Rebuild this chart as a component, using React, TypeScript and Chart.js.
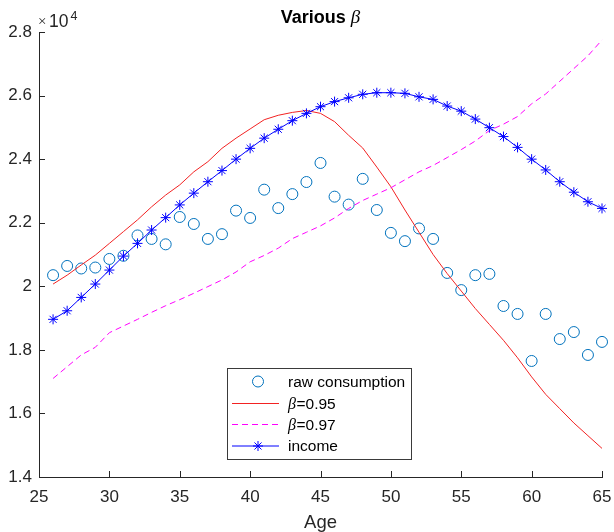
import React, { useEffect, useRef } from "react";
import { Chart, registerables } from "chart.js";

Chart.register(...registerables);

const ages = [26, 27, 28, 29, 30, 31, 32, 33, 34, 35, 36, 37, 38, 39, 40, 41, 42, 43, 44, 45,
  46, 47, 48, 49, 50, 51, 52, 53, 54, 55, 56, 57, 58, 59, 60, 61, 62, 63, 64, 65];

const rawConsumption = [20350, 20640, 20560, 20590, 20860, 20960, 21600, 21490, 21320, 22180,
  21960, 21490, 21640, 22380, 22150, 23040, 22460, 22900, 23280, 23880,
  22820, 22570, 23380, 22400, 21680, 21420, 21820, 21490, 20420, 19880,
  20350, 20390, 19380, 19130, 17650, 19130, 18340, 18560, 17840, 18250];

const beta095 = [20070, 20350, 20670, 20980, 21350, 21720, 22090, 22500, 22870, 23190,
  23600, 23920, 24340, 24660, 24950, 25240, 25380, 25470, 25530, 25440,
  25180, 24750, 24350, 23750, 23130, 22400, 21700, 21000, 20400, 19850,
  19300, 18800, 18300, 17750, 17150, 16600, 16150, 15700, 15300, 14900];

const beta097 = [17100, 17470, 17840, 18080, 18540, 18750, 18960, 19180, 19390, 19580,
  19780, 19990, 20200, 20450, 20770, 20970, 21200, 21500, 21700, 21900,
  22150, 22450, 22700, 22900, 23100, 23350, 23600, 23800, 24050, 24300,
  24570, 24900, 25100, 25340, 25740, 26050, 26450, 26850, 27250, 27750];

const income = [18960, 19230, 19650, 20070, 20510, 20950, 21350, 21770, 22160, 22560,
  22930, 23290, 23640, 24000, 24340, 24660, 24940, 25210, 25440, 25650,
  25810, 25930, 26040, 26090, 26090, 26070, 25960, 25880, 25670, 25510,
  25260, 24990, 24710, 24370, 24000, 23660, 23290, 22960, 22660, 22450];

const xTicks = [25, 30, 35, 40, 45, 50, 55, 60, 65];
const yTicks = [14000, 16000, 18000, 20000, 22000, 24000, 26000, 28000];

const legendLabels = [
  { beta: false, text: "raw consumption" },
  { beta: true, text: "=0.95" },
  { beta: true, text: "=0.97" },
  { beta: false, text: "income" },
];

const AXIS = "#262626";
const SANS = "'Liberation Sans', Arial, sans-serif";
const SERIF = "'Liberation Serif', 'DejaVu Serif', serif";

const C_RAW = "#0072BD";
const C_R = "#F22222";
const C_M = "#FF00FF";
const C_B = "#0000FF";

function drawStar(ctx: CanvasRenderingContext2D, x: number, y: number, r: number, color: string) {
  ctx.save();
  ctx.strokeStyle = color;
  ctx.lineWidth = 1;
  ctx.beginPath();
  ctx.moveTo(x - r, y); ctx.lineTo(x + r, y);
  ctx.moveTo(x, y - r); ctx.lineTo(x, y + r);
  const d = r * Math.SQRT1_2;
  ctx.moveTo(x - d, y - d); ctx.lineTo(x + d, y + d);
  ctx.moveTo(x - d, y + d); ctx.lineTo(x + d, y - d);
  ctx.stroke();
  ctx.restore();
}

const decorPlugin = {
  id: "decor",
  beforeDatasetsDraw(chart: any) {
    const ctx = chart.ctx as CanvasRenderingContext2D;
    const { left, bottom } = chart.chartArea;
    const xs = chart.scales.x;
    const ys = chart.scales.y;
    ctx.save();
    ctx.strokeStyle = AXIS;
    ctx.lineWidth = 1;
    ctx.beginPath();
    xTicks.forEach((v) => {
      const px = Math.round(xs.getPixelForValue(v)) + 0.5;
      ctx.moveTo(px, bottom);
      ctx.lineTo(px, bottom - 6);
    });
    yTicks.forEach((v) => {
      const py = Math.round(ys.getPixelForValue(v)) + 0.5;
      ctx.moveTo(left, py);
      ctx.lineTo(left + 6, py);
    });
    ctx.stroke();
    ctx.restore();
  },
  afterDraw(chart: any) {
    const ctx = chart.ctx as CanvasRenderingContext2D;
    const { left, right } = chart.chartArea;
    const cx = (left + right) / 2;
    ctx.save();

    // Title
    ctx.fillStyle = "#000";
    ctx.textBaseline = "alphabetic";
    ctx.font = `bold 18px ${SANS}`;
    const t1 = "Various ";
    const w1 = ctx.measureText(t1).width;
    ctx.font = `italic 19px ${SERIF}`;
    const w2 = ctx.measureText("β").width;
    const sx = cx - (w1 + w2) / 2;
    ctx.font = `bold 18px ${SANS}`;
    ctx.textAlign = "left";
    ctx.fillText(t1, sx, 23);
    ctx.font = `italic 19px ${SERIF}`;
    ctx.fillText("β", sx + w1, 23);

    // x label
    ctx.fillStyle = AXIS;
    ctx.font = `18.5px ${SANS}`;
    ctx.textAlign = "center";
    ctx.fillText("Age", cx, 528);

    // exponent
    ctx.textAlign = "left";
    ctx.font = `15px ${SERIF}`;
    ctx.fillText("×", 38, 26);
    ctx.font = `17.5px ${SANS}`;
    ctx.fillText("10", 49, 27);
    ctx.font = `12.5px ${SANS}`;
    ctx.fillText("4", 70.5, 20);

    // Legend
    const bx = 227.5, by = 368.5, bw = 184, bh = 91;
    ctx.fillStyle = "#fff";
    ctx.fillRect(bx, by, bw, bh);
    ctx.strokeStyle = "#3a3a3a";
    ctx.lineWidth = 1;
    ctx.strokeRect(bx, by, bw, bh);
    const rows = [381.5, 403.5, 424.5, 446];
    const l0 = 232, l1 = 279, mx = 258;
    ctx.strokeStyle = C_RAW;
    ctx.beginPath();
    ctx.arc(mx, rows[0], 5.5, 0, Math.PI * 2);
    ctx.stroke();
    ctx.strokeStyle = C_R;
    ctx.beginPath(); ctx.moveTo(l0, rows[1]); ctx.lineTo(l1, rows[1]); ctx.stroke();
    ctx.strokeStyle = C_M;
    ctx.setLineDash([6, 4]);
    ctx.beginPath(); ctx.moveTo(l0, rows[2]); ctx.lineTo(l1, rows[2]); ctx.stroke();
    ctx.setLineDash([]);
    ctx.strokeStyle = C_B;
    ctx.beginPath(); ctx.moveTo(l0, rows[3]); ctx.lineTo(l1, rows[3]); ctx.stroke();
    drawStar(ctx, mx, rows[3], 5, C_B);

    ctx.fillStyle = "#000";
    ctx.textBaseline = "middle";
    legendLabels.forEach((lab, i) => {
      let x = 288;
      if (lab.beta) {
        ctx.font = `italic 16px ${SERIF}`;
        ctx.fillText("β", x, rows[i] + 1);
        x += ctx.measureText("β").width + 0.5;
      }
      ctx.font = `15.5px ${SANS}`;
      ctx.fillText(lab.text, x, rows[i] + 1);
    });

    ctx.restore();
  },
};

export default function App() {
  const ref = useRef<HTMLCanvasElement | null>(null);

  useEffect(() => {
    if (!ref.current) return;
    const pts = (arr: number[]) => ages.map((a, i) => ({ x: a, y: arr[i] }));
    const chart = new Chart(ref.current, {
      type: "line",
      data: {
        datasets: [
          {
            label: "raw consumption",
            data: pts(rawConsumption),
            showLine: false,
            borderColor: C_RAW,
            backgroundColor: "rgba(0,0,0,0)",
            pointStyle: "circle",
            pointRadius: 5.5,
            pointBorderWidth: 1,
            pointBorderColor: C_RAW,
            pointBackgroundColor: "rgba(0,0,0,0)",
            order: 3,
            clip: false,
          },
          {
            label: "β=0.95",
            data: pts(beta095),
            borderColor: C_R,
            borderWidth: 1,
            pointRadius: 0,
            tension: 0,
            order: 2,
            clip: false,
          },
          {
            label: "β=0.97",
            data: pts(beta097),
            borderColor: C_M,
            borderWidth: 1,
            borderDash: [6, 4],
            pointRadius: 0,
            tension: 0,
            order: 1,
            clip: false,
          },
          {
            label: "income",
            data: pts(income),
            borderColor: C_B,
            borderWidth: 1,
            pointStyle: "star",
            pointRadius: 5,
            pointBorderWidth: 1,
            pointBorderColor: C_B,
            pointBackgroundColor: C_B,
            tension: 0,
            order: 0,
            clip: false,
          },
        ],
      },
      options: {
        animation: false,
        responsive: false,
        devicePixelRatio: 1,
        layout: { padding: { top: 32, right: 12, bottom: 0, left: 0 } },
        plugins: {
          legend: { display: false },
          title: { display: false },
          tooltip: { enabled: false },
        },
        scales: {
          x: {
            type: "linear",
            min: 25,
            max: 65,
            afterFit: (s: any) => {
              s.height = 55;
              s.paddingLeft = 0;
              s.paddingRight = 0;
            },
            afterBuildTicks: (s: any) => { s.ticks = xTicks.map((v) => ({ value: v })); },
            grid: { display: false, drawTicks: false },
            border: { display: true, color: AXIS, width: 1 },
            ticks: {
              color: AXIS,
              font: { family: SANS, size: 17 },
              padding: 10,
              maxRotation: 0,
              autoSkip: false,
            },
          },
          y: {
            type: "linear",
            min: 14000,
            max: 28000,
            afterFit: (s: any) => {
              s.width = 39;
              s.paddingTop = 0;
              s.paddingBottom = 0;
            },
            afterBuildTicks: (s: any) => { s.ticks = yTicks.map((v) => ({ value: v })); },
            grid: { display: false, drawTicks: false },
            border: { display: true, color: AXIS, width: 1 },
            ticks: {
              color: AXIS,
              font: { family: SANS, size: 17 },
              padding: 7,
              autoSkip: false,
              callback: (v: any) => String(Math.round((Number(v) / 10000) * 10) / 10),
            },
          },
        },
      },
      plugins: [decorPlugin],
    });
    return () => chart.destroy();
  }, []);

  return (
    <div style={{ position: "fixed", left: 0, top: 0, width: 614, height: 532, background: "#fff" }}>
      <canvas ref={ref} width={614} height={532} style={{ display: "block" }} />
    </div>
  );
}
